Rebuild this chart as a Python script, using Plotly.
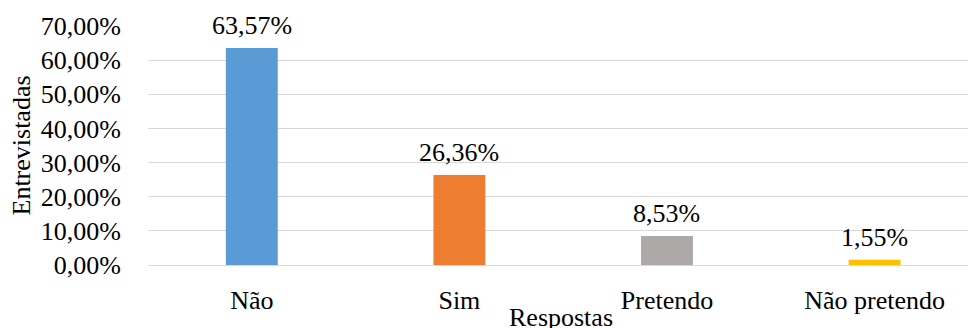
import plotly.graph_objects as go

categories = ["Não", "Sim", "Pretendo", "Não pretendo"]
values = [0.6357, 0.2636, 0.0853, 0.0155]
colors = ["#5B9BD5", "#ED7D31", "#ADA9A9", "#FFC000"]
y_ticks = [0, 0.1, 0.2, 0.3, 0.4, 0.5, 0.6, 0.7]

FONT = "Liberation Serif"
FS = 26
W, H = 968, 328
L, R, T, B = 148, 0, 26, 63

labels = [f"{v*100:.2f}%".replace(".", ",") for v in values]

fig = go.Figure()
fig.add_trace(go.Bar(
    x=list(range(len(categories))),
    y=values,
    marker=dict(color=colors, line=dict(width=0)),
    width=0.25,
    hoverinfo="skip",
))

annotations = []
for i, (v, t) in enumerate(zip(values, labels)):
    annotations.append(dict(
        x=i, y=v, xref="x", yref="y", text=t, showarrow=False,
        yanchor="bottom", yshift=6,
        font=dict(family=FONT, size=FS, color="#000000"),
    ))

pw = W - L - R
annotations.append(dict(
    x=(21 - L) / pw, y=0.5, xref="paper", yref="paper",
    text="Entrevistadas", textangle=-90, showarrow=False,
    xanchor="center", yanchor="middle",
    font=dict(family=FONT, size=FS, color="#000000"),
))
annotations.append(dict(
    x=(561 - L) / pw, y=0, xref="paper", yref="paper",
    text="Respostas", showarrow=False,
    xanchor="center", yanchor="top", yshift=-36,
    font=dict(family=FONT, size=FS, color="#000000"),
))

fig.update_layout(
    width=W, height=H,
    margin=dict(l=L, r=R, t=T, b=B, pad=0),
    paper_bgcolor="#FFFFFF", plot_bgcolor="#FFFFFF",
    separators=",.",
    showlegend=False,
    font=dict(family=FONT, size=FS, color="#000000"),
    annotations=annotations,
    bargap=0.75,
)
fig.update_xaxes(
    range=[-0.5, 3.45],
    tickvals=list(range(len(categories))),
    ticktext=categories,
    showgrid=False, zeroline=False, showline=False,
    ticks="outside", ticklen=12, tickcolor="rgba(0,0,0,0)",
    tickfont=dict(family=FONT, size=FS, color="#000000"),
    fixedrange=True,
)
fig.update_yaxes(
    range=[0, 0.7],
    tickvals=y_ticks,
    tickformat=".2%",
    showgrid=True, gridcolor="#D9D9D9", gridwidth=1.3,
    zeroline=True, zerolinecolor="#D9D9D9", zerolinewidth=1.3,
    showline=False,
    ticks="outside", ticklen=21, tickcolor="rgba(0,0,0,0)",
    tickfont=dict(family=FONT, size=FS, color="#000000"),
    fixedrange=True,
)

fig.write_html("out.html", config={"displayModeBar": False})
